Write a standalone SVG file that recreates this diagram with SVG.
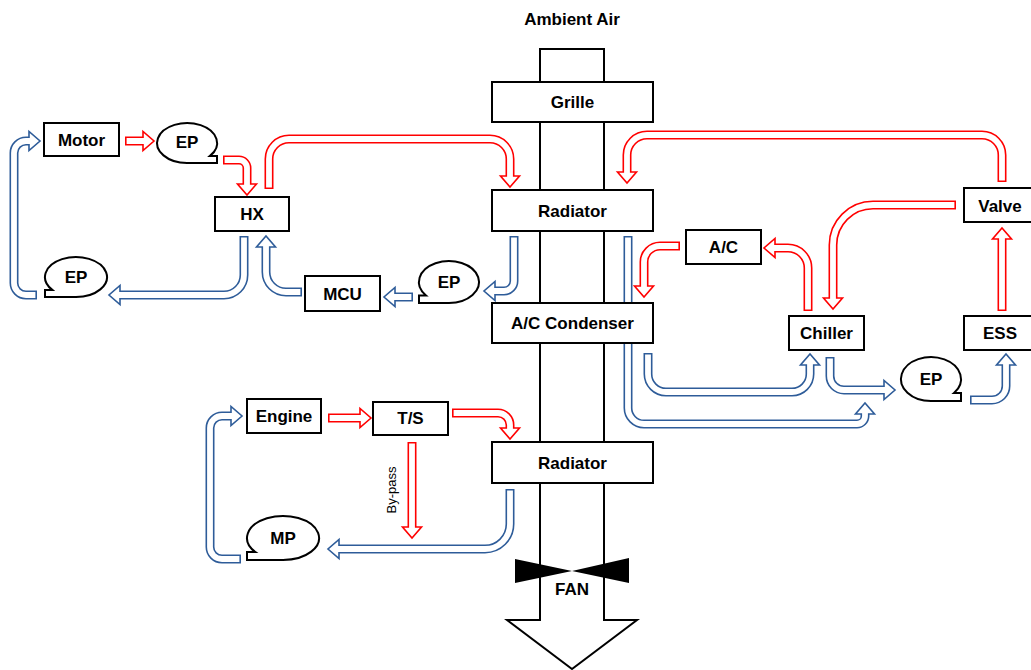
<svg xmlns="http://www.w3.org/2000/svg" xmlns:xlink="http://www.w3.org/1999/xlink" width="1031" height="670" viewBox="0 0 1031 670">
  <style>
    .box { fill: #fff; stroke: #000; stroke-width: 2; }
    .lbl { font-family: "Liberation Sans", Arial, sans-serif; font-weight: bold; font-size: 17px; fill: #000; text-anchor: middle; }
    .out { fill: none; stroke-width: 9; stroke-linecap: butt; stroke-linejoin: round; }
    .in { fill: none; stroke: #fff; stroke-width: 5.8; stroke-linecap: butt; stroke-linejoin: round; stroke-dasharray: 0 1.6 9999; }
    .red { stroke: #ff0000; }
    .blue { stroke: #2e5c99; }
    .hr { fill: #fff; stroke: #ff0000; stroke-width: 1.6; }
    .hb { fill: #fff; stroke: #2e5c99; stroke-width: 1.6; }
  </style>
  <defs>
    <!-- hot (red) flow paths -->
    <path id="r1" d="M125,141 H144.5"/>
    <path id="r2" d="M223,160 H239 A8,8 0 0 1 247,168 V185.5"/>
    <path id="r3" d="M269,189 V159 A20,20 0 0 1 289,139 H490 A20,20 0 0 1 510,159 V177.5"/>
    <path id="r4" d="M1002,182 V155 A20,20 0 0 0 982,135 H647 A20,20 0 0 0 627,155 V173.5"/>
    <path id="r5" d="M956,205 H873 A40,40 0 0 0 833,245 V299.5"/>
    <path id="r6" d="M808,311 V268 A20,20 0 0 0 788,248 H773.5"/>
    <path id="r7" d="M680,246 H660 A16,16 0 0 0 644,262 V287.5"/>
    <path id="r8" d="M1002,311 V237.5"/>
    <path id="r9" d="M328,418 H361.5"/>
    <path id="r10" d="M452,413 H498 A12,12 0 0 1 510,425 V429.5"/>
    <path id="r11" d="M412,442 V528.5"/>
    <!-- cool (blue) flow paths -->
    <path id="b12" d="M241,559 H222 A12,12 0 0 1 210,547 V428 A12,12 0 0 1 222,416 H232.5"/>
    <path id="b13" d="M510,489 V524 A25,25 0 0 1 485,549 H337.5"/>
    <path id="b14" d="M244,236 V275 A20,20 0 0 1 224,295 H118.5"/>
    <path id="b15" d="M37,295 H26 A12,12 0 0 1 14,283 V153 A12,12 0 0 1 26,141 H30.5"/>
    <path id="b16" d="M302,292 H286 A20,20 0 0 1 266,272 V245.5"/>
    <path id="b17" d="M413,297 H393.5"/>
    <path id="b18" d="M514,236 V281 A10,10 0 0 1 504,291 H493.5"/>
    <path id="b19" d="M628,236 V408 A16,16 0 0 0 644,424 H857 A8,8 0 0 0 865,416 V412.5"/>
    <path id="b20" d="M648,353 V374 A18,18 0 0 0 666,392 H792 A18,18 0 0 0 810,374 V363.5"/>
    <path id="b21" d="M830,357 V376 A14,14 0 0 0 844,390 H885.5"/>
    <path id="b22" d="M970,400 H992 A14,14 0 0 0 1006,386 V363.5"/>
  </defs>

  <rect width="1031" height="670" fill="#fff"/>

  <!-- air duct with outlet arrow -->
  <g id="duct">
    <path d="M540,49 H604 V620 H637 L572,669 L507,620 H540 Z" fill="#fff" stroke="#000" stroke-width="2" stroke-linejoin="miter"/>
    <text class="lbl" x="572" y="25">Ambient Air</text>
  </g>

  <g id="connectors">
    <g><use xlink:href="#r1" class="out red"/><polygon class="hr" points="143,131.5 143,150.5 154,141"/><use xlink:href="#r1" class="in"/></g>
    <g><use xlink:href="#r2" class="out red"/><polygon class="hr" points="237.5,184 256.5,184 247,195"/><use xlink:href="#r2" class="in"/></g>
    <g><use xlink:href="#r3" class="out red"/><polygon class="hr" points="500.5,176 519.5,176 510,187"/><use xlink:href="#r3" class="in"/></g>
    <g><use xlink:href="#r4" class="out red"/><polygon class="hr" points="617.5,172 636.5,172 627,183"/><use xlink:href="#r4" class="in"/></g>
    <g><use xlink:href="#r5" class="out red"/><polygon class="hr" points="823.5,298 842.5,298 833,309"/><use xlink:href="#r5" class="in"/></g>
    <g><use xlink:href="#r6" class="out red"/><polygon class="hr" points="775,238.5 775,257.5 764,248"/><use xlink:href="#r6" class="in"/></g>
    <g><use xlink:href="#r7" class="out red"/><polygon class="hr" points="634.5,286 653.5,286 644,297"/><use xlink:href="#r7" class="in"/></g>
    <g><use xlink:href="#r8" class="out red"/><polygon class="hr" points="992.5,239 1011.5,239 1002,228"/><use xlink:href="#r8" class="in"/></g>
    <g><use xlink:href="#r9" class="out red"/><polygon class="hr" points="360,408.5 360,427.5 371,418"/><use xlink:href="#r9" class="in"/></g>
    <g><use xlink:href="#r10" class="out red"/><polygon class="hr" points="500.5,428 519.5,428 510,439"/><use xlink:href="#r10" class="in"/></g>
    <g><use xlink:href="#r11" class="out red"/><polygon class="hr" points="402.5,527 421.5,527 412,538"/><use xlink:href="#r11" class="in"/></g>
    <text transform="translate(396,490) rotate(-90)" font-family="Liberation Sans, Arial, sans-serif" font-size="13" text-anchor="middle">By-pass</text>

    <g><use xlink:href="#b12" class="out blue"/><polygon class="hb" points="231,406.5 231,425.5 242,416"/><use xlink:href="#b12" class="in"/></g>
    <g><use xlink:href="#b13" class="out blue"/><polygon class="hb" points="339,539.5 339,558.5 328,549"/><use xlink:href="#b13" class="in"/></g>
    <g><use xlink:href="#b14" class="out blue"/><polygon class="hb" points="120,285.5 120,304.5 109,295"/><use xlink:href="#b14" class="in"/></g>
    <g><use xlink:href="#b15" class="out blue"/><polygon class="hb" points="29,131.5 29,150.5 40,141"/><use xlink:href="#b15" class="in"/></g>
    <g><use xlink:href="#b16" class="out blue"/><polygon class="hb" points="256.5,247 275.5,247 266,236"/><use xlink:href="#b16" class="in"/></g>
    <g><use xlink:href="#b17" class="out blue"/><polygon class="hb" points="395,287.5 395,306.5 384,297"/><use xlink:href="#b17" class="in"/></g>
    <g><use xlink:href="#b18" class="out blue"/><polygon class="hb" points="495,281.5 495,300.5 484,291"/><use xlink:href="#b18" class="in"/></g>
    <g><use xlink:href="#b19" class="out blue"/><polygon class="hb" points="855.5,414 874.5,414 865,403"/><use xlink:href="#b19" class="in"/></g>
    <g><use xlink:href="#b20" class="out blue"/><polygon class="hb" points="800.5,365 819.5,365 810,354"/><use xlink:href="#b20" class="in"/></g>
    <g><use xlink:href="#b21" class="out blue"/><polygon class="hb" points="884,380.5 884,399.5 895,390"/><use xlink:href="#b21" class="in"/></g>
    <g><use xlink:href="#b22" class="out blue"/><polygon class="hb" points="996.5,365 1015.5,365 1006,354"/><use xlink:href="#b22" class="in"/></g>
  </g>

  <!-- duct components -->
  <g id="grille"><rect class="box" x="492" y="82" width="161" height="40"/><text class="lbl" x="572.5" y="108">Grille</text></g>
  <g id="radiator-top"><rect class="box" x="492" y="190" width="161" height="41"/><text class="lbl" x="572.5" y="217">Radiator</text></g>
  <g id="ac-condenser"><rect class="box" x="492" y="303" width="161" height="40"/><text class="lbl" x="572.5" y="329">A/C Condenser</text></g>
  <g id="radiator-bottom"><rect class="box" x="492" y="442" width="161" height="41"/><text class="lbl" x="572.5" y="469">Radiator</text></g>
  <g id="fan">
    <polygon points="515,559 572,571 629,558 629,583 572,571 515,583" fill="#000"/>
    <text class="lbl" x="572" y="595" font-size="16">FAN</text>
  </g>

  <!-- electric drive loop -->
  <g id="motor"><rect class="box" x="44" y="123" width="75" height="33"/><text class="lbl" x="81.5" y="146">Motor</text></g>
  <g id="ep-1"><path class="box" d="M187,163 A30,20 0 1 1 210,155.9 L217,155.9 L217,163 Z"/><text class="lbl" x="187" y="148">EP</text></g>
  <g id="hx"><rect class="box" x="215" y="197" width="74" height="34"/><text class="lbl" x="252" y="220">HX</text></g>
  <g id="ep-2"><path class="box" d="M76,297 A31,20 0 1 0 52.3,289.9 L45,289.9 L45,297 Z"/><text class="lbl" x="76" y="283">EP</text></g>
  <g id="mcu"><rect class="box" x="305" y="276" width="75" height="35"/><text class="lbl" x="342.5" y="300">MCU</text></g>
  <g id="ep-3"><path class="box" d="M449,303 A30,21 0 1 0 426,295.5 L419,295.5 L419,303 Z"/><text class="lbl" x="449" y="288">EP</text></g>

  <!-- battery / air-conditioning loop -->
  <g id="ac"><rect class="box" x="686" y="230" width="75" height="34"/><text class="lbl" x="723.5" y="253">A/C</text></g>
  <g id="valve"><rect class="box" x="964" y="188" width="72" height="34"/><text class="lbl" x="1000" y="212">Valve</text></g>
  <g id="chiller"><rect class="box" x="789" y="316" width="75" height="34"/><text class="lbl" x="826.5" y="339">Chiller</text></g>
  <g id="ess"><rect class="box" x="964" y="316" width="72" height="34"/><text class="lbl" x="1000" y="339">ESS</text></g>
  <g id="ep-4"><path class="box" d="M931,401 A30,22 0 1 1 954,393.1 L961,393.1 L961,401 Z"/><text class="lbl" x="931" y="385">EP</text></g>

  <!-- engine loop -->
  <g id="engine"><rect class="box" x="247" y="399" width="74" height="34"/><text class="lbl" x="284" y="422">Engine</text></g>
  <g id="ts"><rect class="box" x="373" y="402" width="75" height="33"/><text class="lbl" x="410.5" y="424">T/S</text></g>
  <g id="mp"><path class="box" d="M283,560 A36,22 0 1 0 255.4,552.1 L247,552.1 L247,560 Z"/><text class="lbl" x="283" y="544">MP</text></g>
</svg>
